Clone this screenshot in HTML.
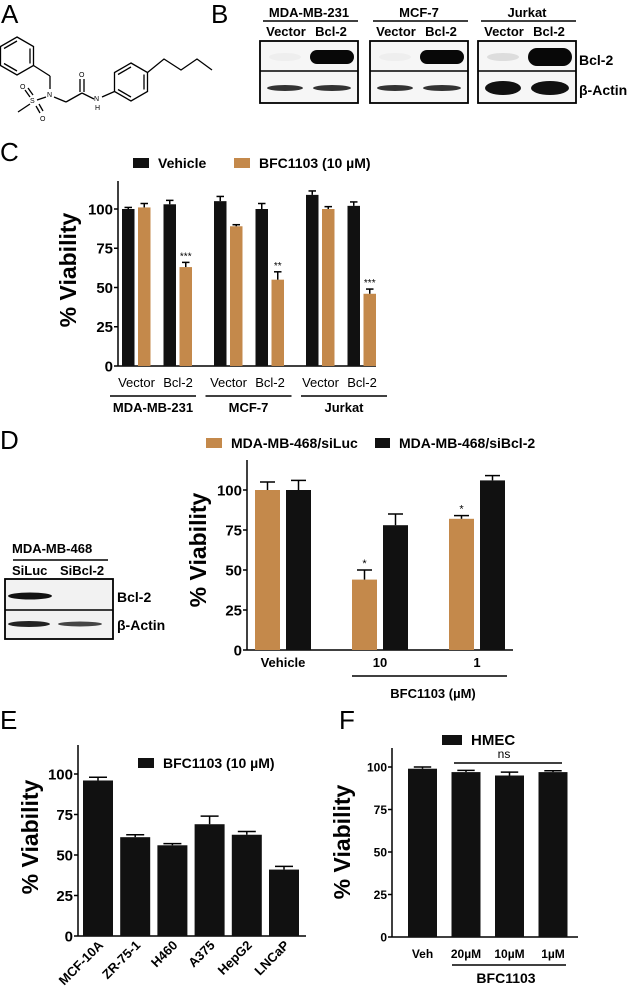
<!DOCTYPE html>
<html><head><meta charset="utf-8"><style>
html,body{margin:0;padding:0;background:#fff;}
svg{display:block;font-family:"Liberation Sans",Arial,sans-serif;}
.b{font-weight:bold;}
</style></head><body>
<svg id="fig" width="627" height="994" viewBox="0 0 627 994" xmlns="http://www.w3.org/2000/svg">
<!-- Panel labels -->
<text x="1" y="23" font-size="26">A</text>
<text x="211" y="23" font-size="26">B</text>
<text x="0" y="161" font-size="26">C</text>
<text x="0" y="449" font-size="26">D</text>
<text x="0" y="729" font-size="26">E</text>
<text x="339" y="729" font-size="26">F</text>

<!-- Panel A chemical structure -->
<g stroke="#000" stroke-width="1.3" fill="none">
<polygon points="17,37 33.5,46.5 33.5,65.5 17,75 0.5,65.5 0.5,46.5"/>
<line x1="4" y1="48.5" x2="17" y2="41"/><line x1="30" y1="48.5" x2="30" y2="63.5"/><line x1="4" y1="63.5" x2="17" y2="71"/>
<line x1="33.5" y1="65.5" x2="50" y2="76"/><line x1="50" y1="76" x2="50" y2="89"/>
<line x1="46" y1="97" x2="37" y2="100"/><line x1="54" y1="97" x2="66" y2="102"/>
<line x1="30" y1="97" x2="25" y2="90"/><line x1="33" y1="95" x2="28" y2="88"/>
<line x1="36" y1="106" x2="40" y2="113"/><line x1="39" y1="104" x2="43" y2="111"/>
<line x1="30" y1="104" x2="18" y2="112"/>
<line x1="66" y1="102" x2="82" y2="93"/><line x1="80" y1="92" x2="80" y2="79"/><line x1="84" y1="92" x2="84" y2="79"/>
<line x1="82" y1="93" x2="94" y2="99"/><line x1="102" y1="97" x2="114.5" y2="91.5"/>
<polygon points="131,63 147.5,72.5 147.5,91.5 131,101 114.5,91.5 114.5,72.5"/>
<line x1="118" y1="74.5" x2="131" y2="67"/><line x1="144" y1="74.5" x2="144" y2="89.5"/><line x1="118" y1="89.5" x2="131" y2="97"/>
<polyline points="147.5,72.5 164,59 181,70 197,59 212,70"/>
</g>
<g font-size="7">
<text x="47" y="97">N</text><text x="30" y="103">S</text><text x="20" y="89">O</text><text x="40" y="121">O</text>
<text x="79" y="77">O</text><text x="94" y="101">N</text><text x="95" y="110">H</text>
</g>

<!-- Panel B blots -->
<g id="blotB"></g>
<!-- Panel D blot -->
<g id="blotD"></g>

<g id="chartC"></g>
<g id="chartD"></g>
<g id="chartE"></g>
<g id="chartF"></g>
</svg>
<script>
// ---- data ----
const cCategories = ["Vector","Bcl-2","Vector","Bcl-2","Vector","Bcl-2"];
const cGroups = ["MDA-MB-231","MCF-7","Jurkat"];
const cVehicle = [100,103,105,100,109,102];
const cVehicleErr = [1,2.5,3,3.5,2.5,2.5];
const cBFC = [101,63,89,55,100,46];
const cBFCErr = [2.5,3,1,5,1.5,3];
const cStars = ["","***","","**","","***"];
const yTicks = [0,25,50,75,100];

const dCategories = ["Vehicle","10","1"];
const dSiLuc = [100,44,82];
const dSiLucErr = [5,6,2];
const dSiBcl2 = [100,78,106];
const dSiBcl2Err = [6,7,3];
const dStars = ["","*","*"];

const eCategories = ["MCF-10A","ZR-75-1","H460","A375","HepG2","LNCaP"];
const eValues = [96,61,56,69,62.5,41];
const eErr = [2,1.5,1,5,2,2];

const fCategories = ["Veh","20\u00b5M","10\u00b5M","1\u00b5M"];
const fValues = [99,97,95,97];
const fErr = [1,1,2,0.8];

const ORANGE = "#c4894b";
const NS = "http://www.w3.org/2000/svg";
function mk(parent, tag, attrs, txt){
  const e = document.createElementNS(NS, tag);
  for (const k in attrs) e.setAttribute(k, attrs[k]);
  if (txt !== undefined) e.textContent = txt;
  parent.appendChild(e);
  return e;
}
function yScale(y0, y100){ return v => y0 - v*(y0-y100)/100; }

function axes(g, x0, x1, yTop, y, fs, tickLabelX){
  const ya = mk(g,'line',{x1:x0,y1:yTop,x2:x0,y2:y(0),stroke:'#000','stroke-width':1.5});
  
  
  const xa = mk(g,'line',{x1:x0,y1:y(0),x2:x1,y2:y(0),stroke:'#000','stroke-width':1.5});
  
  
  yTicks.forEach(t=>{
    const tk = mk(g,'line',{x1:x0-4,y1:y(t),x2:x0,y2:y(t),stroke:'#000','stroke-width':1.5});
    
    
    const tl = mk(g,'text',{x:x0-5,y:y(t)+fs*0.36,'font-size':fs,'font-weight':'bold','text-anchor':'end'},String(t));
    
    
  });
}
function bar(g, x, w, y, v, err, color, name){
  const r = mk(g,'rect',{x:x,y:y(v),width:w,height:y(0)-y(v),fill:color});
  
  
  const cx = x + w/2;
  const e1 = mk(g,'line',{x1:cx,y1:y(v),x2:cx,y2:y(v+err),stroke:'#000','stroke-width':1.5});
  
  
  const e2 = mk(g,'line',{x1:cx-w*0.3,y1:y(v+err),x2:cx+w*0.3,y2:y(v+err),stroke:'#000','stroke-width':1.5});
  
  
}
function ylabel(g, cx, cy, fs){
  const t = mk(g,'text',{x:cx,y:cy,'font-size':fs,'font-weight':'bold','text-anchor':'middle',transform:`rotate(-90 ${cx} ${cy})`,dy:fs*0.35},'% Viability');
  
  
}
function legend(g, x, y, color, label, fs, w, h){
  const s = mk(g,'rect',{x:x,y:y,width:w,height:h,fill:color});
  
  
  const t = mk(g,'text',{x:x+w+9,y:y+h,'font-size':fs,'font-weight':'bold'},label);
  
  
}

// ---- Chart C ----
(function(){
  const g = document.getElementById('chartC');
  const y = yScale(366, 209);
  axes(g, 118, 376, 181, y, 15);
  legend(g,133,158,'#111','Vehicle',14,16,10);
  legend(g,234,158,ORANGE,'BFC1103 (10 \u00b5M)',14,16,10);
  ylabel(g, 68, 270, 23);
  const bw = 12.5;
  cCategories.forEach((c,i)=>{
    const xb = 122 + i*41.5 + Math.floor(i/2)*9;
    bar(g, xb, bw, y, cVehicle[i], cVehicleErr[i], '#111', 'bar-vehicle');
    bar(g, xb+16, bw, y, cBFC[i], cBFCErr[i], ORANGE, 'bar-bfc1103');
    if (cStars[i]) {
      const s = mk(g,'text',{x:xb+16+bw/2,y:y(cBFC[i]+cBFCErr[i])-3,'font-size':10,'text-anchor':'middle'},cStars[i]);
      
      
    }
    const t = mk(g,'text',{x:xb+bw+2,y:387,'font-size':13,'text-anchor':'middle'},c);
    
    
  });
  cGroups.forEach((gn,j)=>{
    const xa = 110 + j*95.5, xb2 = xa + 86;
    const l = mk(g,'line',{x1:xa,y1:396,x2:xb2,y2:396,stroke:'#000','stroke-width':1.5});
    
    
    const t = mk(g,'text',{x:(xa+xb2)/2,y:412,'font-size':13,'font-weight':'bold','text-anchor':'middle'},gn);
    
    
  });
})();

// ---- Chart D ----
(function(){
  const g = document.getElementById('chartD');
  const y = yScale(650, 490);
  axes(g, 247, 513, 460, y, 15);
  legend(g,206,438,ORANGE,'MDA-MB-468/siLuc',14,16,10);
  legend(g,375,438,'#111','MDA-MB-468/siBcl-2',14,15,10);
  ylabel(g, 198, 550, 23);
  const bw = 25;
  dCategories.forEach((c,i)=>{
    const xb = 255 + i*97;
    bar(g, xb, bw, y, dSiLuc[i], dSiLucErr[i], ORANGE, 'bar-siluc');
    bar(g, xb+31, bw, y, dSiBcl2[i], dSiBcl2Err[i], '#111', 'bar-sibcl2');
    if (dStars[i]) {
      const s = mk(g,'text',{x:xb+bw/2,y:y(dSiLuc[i]+dSiLucErr[i])-3,'font-size':11,'text-anchor':'middle'},dStars[i]);
      
      
    }
    const t = mk(g,'text',{x:xb+28,y:667,'font-size':13,'font-weight':'bold','text-anchor':'middle'},c);
    
    
  });
  const l = mk(g,'line',{x1:352,y1:676,x2:507,y2:676,stroke:'#000','stroke-width':1.5});
  
  
  const t = mk(g,'text',{x:433,y:698,'font-size':13,'font-weight':'bold','text-anchor':'middle'},'BFC1103 (\u00b5M)');
  
  
})();

// ---- Chart E ----
(function(){
  const g = document.getElementById('chartE');
  const y = yScale(936, 774);
  axes(g, 78, 306, 745, y, 15);
  legend(g,138,758,'#111','BFC1103 (10 \u00b5M)',14,16,10);
  ylabel(g, 30, 837, 23);
  const bw = 30;
  eCategories.forEach((c,i)=>{
    const xb = 83 + i*37.2;
    bar(g, xb, bw, y, eValues[i], eErr[i], '#111', 'bar-cell-line');
    const cx = xb + bw/2 + 6, cy = 946;
    const t = mk(g,'text',{x:cx,y:cy,'font-size':13,'font-weight':'bold','text-anchor':'end',transform:`rotate(-45 ${cx} ${cy})`},c);
    
    
  });
})();

// ---- Chart F ----
(function(){
  const g = document.getElementById('chartF');
  const y = yScale(937, 767);
  axes(g, 392, 578, 748, y, 12);
  legend(g,442,735,'#111','HMEC',15,20,10);
  ylabel(g, 342, 842, 23);
  const bw = 29;
  fCategories.forEach((c,i)=>{
    const xb = 408 + i*43.5;
    bar(g, xb, bw, y, fValues[i], fErr[i], '#111', 'bar-hmec');
    const t = mk(g,'text',{x:xb+bw/2,y:958,'font-size':12,'font-weight':'bold','text-anchor':'middle'},c);
    
    
  });
  const ns = mk(g,'line',{x1:454,y1:763,x2:562,y2:763,stroke:'#000','stroke-width':1.5});
  
  
  const nt = mk(g,'text',{x:504,y:758,'font-size':12,'text-anchor':'middle'},'ns');
  
  
  const l = mk(g,'line',{x1:452,y1:965,x2:566,y2:965,stroke:'#000','stroke-width':1.5});
  
  
  const t = mk(g,'text',{x:506,y:983,'font-size':14,'font-weight':'bold','text-anchor':'middle'},'BFC1103');
  
  
})();

// ---- Blots ----
(function(){
  const g = document.getElementById('blotB');
  const boxes = [
    {x:260,name:'MDA-MB-231',faint:'#eee',act:'#333'},
    {x:370,name:'MCF-7',faint:'#eee',act:'#333'},
    {x:478,name:'Jurkat',faint:'#ddd',act:'#111'}
  ];
  boxes.forEach(b=>{
    const w = 98;
    const h = mk(g,'text',{x:b.x+w/2,y:17,'font-size':13,'font-weight':'bold','text-anchor':'middle'},b.name);
    
    
    const u = mk(g,'line',{x1:b.x+3,y1:21,x2:b.x+w,y2:21,stroke:'#000','stroke-width':1.5});
    
    
    const l1 = mk(g,'text',{x:b.x+26,y:36,'font-size':13,'font-weight':'bold','text-anchor':'middle'},'Vector');
    
    
    const l2 = mk(g,'text',{x:b.x+71,y:36,'font-size':13,'font-weight':'bold','text-anchor':'middle'},'Bcl-2');
    
    
    mk(g,'rect',{x:b.x,y:41,width:w,height:62,fill:'#f6f6f6',stroke:'#000','stroke-width':1.8});
    mk(g,'line',{x1:b.x,y1:71,x2:b.x+w,y2:71,stroke:'#000','stroke-width':1.5});
    mk(g,'ellipse',{cx:b.x+25,cy:57,rx:16,ry:4,fill:b.faint});
    const big = b.name==='Jurkat'?9:7;
    mk(g,'rect',{x:b.x+50,y:57-big,width:44,height:big*2,rx:big,fill:'#080808'});
    mk(g,'ellipse',{cx:b.x+25,cy:88,rx:18,ry:b.name==='Jurkat'?7:3,fill:b.act});
    mk(g,'ellipse',{cx:b.x+72,cy:88,rx:19,ry:b.name==='Jurkat'?7:3,fill:b.act});
  });
  const t1 = mk(g,'text',{x:579,y:65,'font-size':14,'font-weight':'bold'},'Bcl-2');
  
  
  const t2 = mk(g,'text',{x:579,y:95,'font-size':14,'font-weight':'bold'},'\u03b2-Actin');
  
  
})();
(function(){
  const g = document.getElementById('blotD');
  const h = mk(g,'text',{x:12,y:553,'font-size':13,'font-weight':'bold'},'MDA-MB-468');
  
  
  mk(g,'line',{x1:13,y1:560,x2:108,y2:560,stroke:'#000','stroke-width':1.5});
  const a = mk(g,'text',{x:12,y:575,'font-size':13,'font-weight':'bold'},'SiLuc');
  
  
  const b = mk(g,'text',{x:60,y:575,'font-size':13,'font-weight':'bold'},'SiBcl-2');
  
  
  mk(g,'rect',{x:5,y:579,width:108,height:60,fill:'#f2f2f2',stroke:'#000','stroke-width':1.8});
  mk(g,'line',{x1:5,y1:610,x2:113,y2:610,stroke:'#000','stroke-width':1.5});
  mk(g,'ellipse',{cx:30,cy:596,rx:22,ry:3.5,fill:'#111'});
  mk(g,'ellipse',{cx:29,cy:624,rx:21,ry:3,fill:'#222'});
  mk(g,'ellipse',{cx:80,cy:624,rx:22,ry:2.5,fill:'#444'});
  const t1 = mk(g,'text',{x:117,y:602,'font-size':14,'font-weight':'bold'},'Bcl-2');
  
  
  const t2 = mk(g,'text',{x:117,y:630,'font-size':14,'font-weight':'bold'},'\u03b2-Actin');
  
  
})();
</script>
</body></html>
